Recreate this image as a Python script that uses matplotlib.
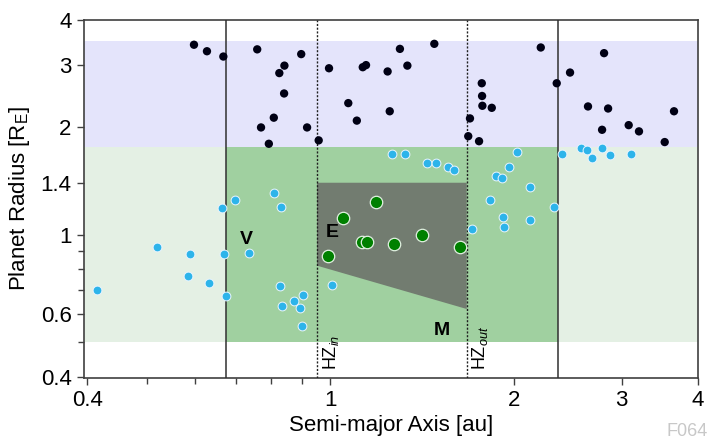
import matplotlib
matplotlib.use("Agg")
import matplotlib.pyplot as plt
from matplotlib.ticker import FixedLocator, FixedFormatter, NullFormatter
from matplotlib import font_manager

# ---------------- data ----------------
black_a = [0.598, 0.628, 0.668, 0.759, 0.896, 0.841, 0.825, 0.840, 0.808, 0.770,
           0.916, 0.793, 0.957, 0.995, 1.070, 1.105, 1.130, 1.144, 1.241, 1.300,
           1.337, 1.480, 1.251, 1.770, 1.772, 1.774, 1.838, 1.693, 1.682, 1.752,
           2.211, 2.348, 2.469, 2.807, 2.642, 2.850, 2.786, 3.080, 3.202, 3.528, 3.654]
black_r = [3.41, 3.27, 3.16, 3.31, 3.21, 2.98, 2.84, 2.49, 2.13, 2.00,
           2.00, 1.80, 1.84, 2.93, 2.34, 2.09, 2.95, 2.99, 2.87, 3.32,
           2.98, 3.43, 2.22, 2.66, 2.45, 2.30, 2.27, 2.12, 1.89, 1.83,
           3.35, 2.66, 2.85, 3.23, 2.29, 2.26, 1.97, 2.03, 1.95, 1.82, 2.22]

blue_a = [0.415, 0.521, 0.588, 0.585, 0.633, 0.665, 0.697, 0.670, 0.676, 0.736,
          0.810, 0.831, 0.827, 0.834, 0.872, 0.903, 0.893, 0.898, 1.007, 1.260,
          1.327, 1.441, 1.488, 1.556, 1.597, 2.024, 1.963, 1.868, 1.908, 2.122,
          1.825, 2.324, 1.918, 2.119, 1.927, 1.708, 2.395, 2.576, 2.635, 2.685,
          2.782, 2.868, 3.104]
blue_r = [0.700, 0.922, 0.885, 0.769, 0.732, 1.19, 1.25, 0.882, 0.676, 0.891,
          1.31, 1.20, 0.721, 0.631, 0.654, 0.678, 0.623, 0.555, 0.724, 1.69,
          1.69, 1.59, 1.59, 1.55, 1.52, 1.71, 1.55, 1.46, 1.44, 1.36,
          1.25, 1.20, 1.12, 1.10, 1.05, 1.04, 1.69, 1.75, 1.73, 1.64,
          1.75, 1.67, 1.69]

green_a = [1.189, 1.050, 0.991, 1.128, 1.150, 1.272, 1.414, 1.632]
green_r = [1.234, 1.115, 0.875, 0.953, 0.953, 0.944, 1.000, 0.924]

# zone boundaries
hz_in, hz_out = 0.951, 1.672          # conservative HZ (dotted)
opt_in, opt_out = 0.676, 2.362        # optimistic HZ (solid)
r_small, r_mid, r_big = 0.5, 1.76, 3.5
earth_box_top = 1.4
earth_box_bottom = [0.82, 0.62]       # at hz_in, hz_out

xticks = [0.4, 1, 2, 3, 4]
xticklabels = ["0.4", "1", "2", "3", "4"]
xminor = [0.5, 0.6, 0.7, 0.8, 0.9]
yticks = [0.4, 0.6, 1, 1.4, 2, 3, 4]
yticklabels = ["0.4", "0.6", "1", "1.4", "2", "3", "4"]
yminor = [0.5, 0.7, 0.8, 0.9]

# ---------------- fonts ----------------
avail = {f.name for f in font_manager.fontManager.ttflist}
fams = [f for f in ["Liberation Sans Narrow", "Liberation Sans", "DejaVu Sans"] if f in avail]
plt.rcParams["font.family"] = fams
plt.rcParams["mathtext.fontset"] = "custom"
plt.rcParams["mathtext.rm"] = fams[0]
plt.rcParams["mathtext.it"] = fams[0] + ":italic"

fig = plt.figure(figsize=(7.1, 4.42), dpi=100)
ax = fig.add_axes([84 / 710, 1 - 377.7 / 442, (698 - 84) / 710, (377.7 - 20) / 442])
ax.set_xscale("log")
ax.set_yscale("log")
xmin, xmax = 0.395, 4.0
ymin, ymax = 0.398, 4.0
ax.set_xlim(xmin, xmax)
ax.set_ylim(ymin, ymax)

# background bands
ax.fill_between([xmin, xmax], r_mid, r_big, color="#e4e4fb", lw=0, zorder=0)
ax.fill_between([xmin, xmax], r_small, r_mid, color="#e4f0e4", lw=0, zorder=0)
ax.fill_between([opt_in, opt_out], r_small, r_mid, color="#a0d0a0", lw=0, zorder=1)
ax.fill([hz_in, hz_out, hz_out, hz_in],
        [earth_box_top, earth_box_top, earth_box_bottom[1], earth_box_bottom[0]],
        color="#727c70", lw=0, zorder=2)

# boundary lines
for xv in (opt_in, opt_out):
    ax.axvline(xv, color="#303030", lw=1.1, zorder=3)
for xv in (hz_in, hz_out):
    ax.axvline(xv, color="#202020", lw=1.0, ls=(0, (1.5, 1.2)), zorder=3)

# points
ax.scatter(black_a, black_r, s=36, color="#000014", edgecolor="none", zorder=5)
ax.scatter(blue_a, blue_r, s=40, color="#2db4ea", edgecolor="#e8f4ff", linewidth=0.7, zorder=5)
ax.scatter(green_a, green_r, s=80, color="#008000", edgecolor="#e0f0e0", linewidth=0.9, zorder=6)

# labels in plot
ax.text(0.728, 0.968, "V", fontsize=14, fontweight="bold", ha="center", va="center", zorder=7)
ax.text(1.006, 1.013, "E", fontsize=14, fontweight="bold", ha="center", va="center", zorder=7)
ax.text(1.52, 0.538, "M", fontsize=14, fontweight="bold", ha="center", va="center", zorder=7)
ax.text(1.002, 0.417, r"HZ$_{\it{in}}$", rotation=90, fontsize=13, ha="center", va="bottom", zorder=7)
ax.text(1.758, 0.417, r"HZ$_{\it{out}}$", rotation=90, fontsize=13, ha="center", va="bottom", zorder=7)

# ticks
ax.xaxis.set_major_locator(FixedLocator(xticks))
ax.xaxis.set_major_formatter(FixedFormatter(xticklabels))
ax.xaxis.set_minor_locator(FixedLocator(xminor))
ax.xaxis.set_minor_formatter(NullFormatter())
ax.yaxis.set_major_locator(FixedLocator(yticks))
ax.yaxis.set_major_formatter(FixedFormatter(yticklabels))
ax.yaxis.set_minor_locator(FixedLocator(yminor))
ax.yaxis.set_minor_formatter(NullFormatter())
ax.tick_params(which="major", length=5, width=1, color="#404040", labelsize=16, pad=4)
ax.tick_params(which="minor", length=4, width=1, color="#404040")

for sp in ax.spines.values():
    sp.set_color("#404040")
    sp.set_linewidth(1.2)

ax.set_xlabel("Semi-major Axis [au]", fontsize=16, labelpad=3)
ax.set_ylabel(r"Planet Radius [R$_{\rm E}$]", fontsize=16, labelpad=6)

fig.text(0.997, 0.004, "F064", fontsize=13, color="#c8c8c8", ha="right", va="bottom")

fig.savefig("out.png", dpi=100)
